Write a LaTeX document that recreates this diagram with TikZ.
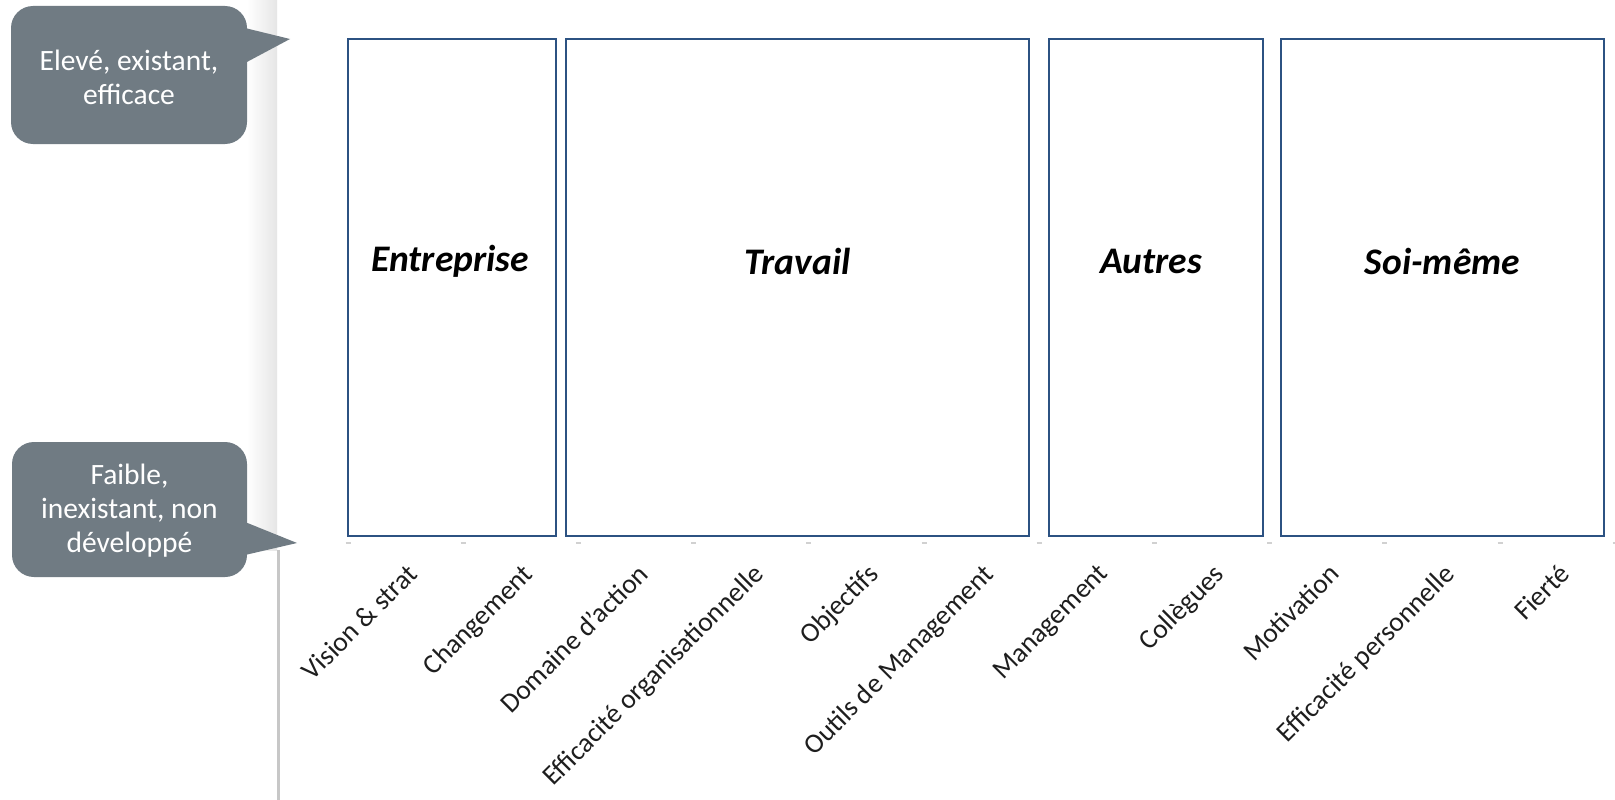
\documentclass[tikz,border=0pt]{standalone}
\usepackage{fontspec}
\setmainfont{Carlito}
\definecolor{calloutgray}{RGB}{112,123,131}
\definecolor{boxblue}{RGB}{44,82,130}
\definecolor{labelink}{RGB}{30,30,30}
\begin{document}
\begin{tikzpicture}[x=1pt,y=-1pt,
  catbox/.style={draw=boxblue, line width=2.2pt, rectangle, inner sep=0pt,
    outer sep=0pt, anchor=north west, minimum height=497pt},
  heading/.style={font=\fontsize{37.5}{42}\selectfont\bfseries\itshape},
  callouttext/.style={text=white, align=center, inner sep=0pt,
    font=\fontsize{29.5}{34}\selectfont},
  axlabel/.style={rotate=45, anchor=north east, inner sep=0pt,
    font=\fontsize{27.5}{32}\selectfont, text=labelink},
  axtick/.style={draw=black!18, line width=1.5pt}
]
% canvas
\fill[white] (0,0) rectangle (1615,800);
\useasboundingbox (0,0) rectangle (1615,800);

% page edge shadow on the left
\shade[left color=white, right color=black!10] (247,0) rectangle (277,550);
\fill[black!22] (277,550) rectangle (280,800);

% callout: high level
\fill[calloutgray, rounded corners=22pt] (11,6) rectangle (247,144);
\fill[calloutgray] (245,28) -- (290,39) -- (245,63) -- cycle;
\node[callouttext] (hi) at (129,77) {Elevé, existant,\\efficace};

% callout: low level
\fill[calloutgray, rounded corners=22pt] (12,442) rectangle (247,577);
\fill[calloutgray] (245,522) -- (297,543) -- (245,555) -- cycle;
\node[callouttext] (lo) at (129.5,511) {Faible,\\inexistant, non\\développé};

% category frames
\node[catbox, minimum width=208pt] (entreprise) at (348,39) {};
\node[catbox, minimum width=463pt] (travail) at (566,39) {};
\node[catbox, minimum width=214pt] (autres) at (1049,39) {};
\node[catbox, minimum width=323pt] (soimeme) at (1281,39) {};

% category titles
\node[heading] (tEnt) at (450,261) {Entreprise};
\node[heading] (tTra) at (797.5,261) {Travail};
\node[heading] (tAut) at (1151,261) {Autres};
\node[heading] (tSoi) at (1442.5,261) {Soi-même};

% category ticks along the axis
\foreach \k in {0,...,11}
  \draw[axtick] ({348+115.2*\k-2.5},543) -- ({348+115.2*\k+2.5},543);

% rotated axis labels
\foreach \k/\txt in {0/Vision \& strat, 1/Changement, 2/Domaine d'action,
    3/Efficacité organisationnelle, 4/Objectifs, 5/Outils de Management,
    6/Management, 7/Collègues, 8/Motivation, 9/Efficacité personnelle,
    10/Fierté}
  \node[axlabel] (lab\k) at ({405.6+115.2*\k},562) {\txt};
\end{tikzpicture}
\end{document}
